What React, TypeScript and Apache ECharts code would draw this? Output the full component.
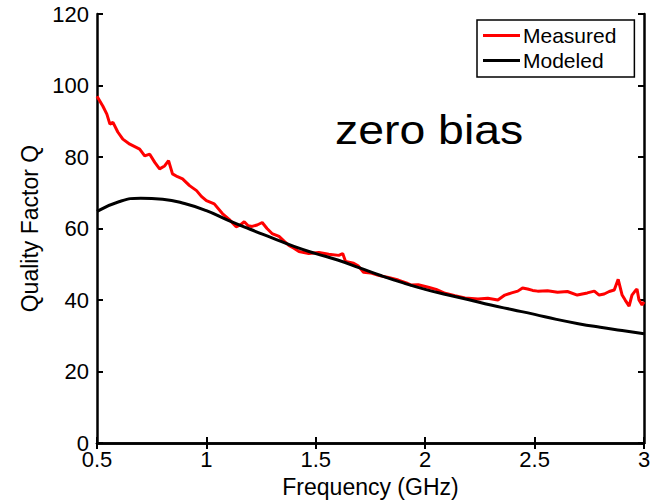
import React, { useEffect, useRef } from "react";
import * as echarts from "echarts";

const measuredF = [0.5, 0.527, 0.545, 0.559, 0.573, 0.595, 0.618, 0.65, 0.695, 0.718, 0.741, 0.764, 0.786, 0.809, 0.827, 0.845, 0.868, 0.891, 0.923, 0.955, 0.977, 1.0, 1.036, 1.073, 1.105, 1.136, 1.155, 1.173, 1.191, 1.209, 1.232, 1.255, 1.277, 1.3, 1.332, 1.355, 1.377, 1.4, 1.423, 1.468, 1.514, 1.559, 1.605, 1.623, 1.636, 1.673, 1.695, 1.718, 1.75, 1.786, 1.832, 1.877, 1.914, 1.936, 1.968, 2.014, 2.05, 2.091, 2.136, 2.182, 2.241, 2.286, 2.332, 2.364, 2.395, 2.423, 2.445, 2.468, 2.491, 2.514, 2.559, 2.605, 2.65, 2.695, 2.741, 2.773, 2.795, 2.818, 2.841, 2.864, 2.882, 2.9, 2.914, 2.932, 2.945, 2.959, 2.968, 2.977, 2.991, 3.0];
const measuredQ = [97.0, 94.2, 92.0, 89.2, 89.7, 87.0, 85.0, 83.6, 82.2, 80.3, 80.8, 78.5, 76.7, 77.5, 79.0, 75.3, 74.5, 73.9, 72.0, 70.6, 69.0, 67.8, 66.9, 64.2, 62.5, 60.5, 61.0, 61.9, 60.8, 60.6, 61.0, 61.7, 60.0, 58.6, 57.8, 56.5, 55.3, 54.5, 53.6, 53.0, 53.3, 52.8, 52.5, 53.0, 50.8, 50.3, 49.5, 47.8, 47.6, 46.9, 46.3, 45.6, 44.8, 44.2, 44.3, 43.6, 43.0, 41.9, 41.2, 40.6, 40.3, 40.5, 40.0, 41.4, 42.0, 42.5, 43.4, 43.1, 42.7, 42.5, 42.6, 42.2, 42.4, 41.4, 42.0, 42.5, 41.4, 41.7, 42.4, 42.8, 45.8, 41.4, 40.0, 38.3, 41.4, 42.5, 43.1, 40.0, 38.6, 39.5];

const modeledF = [0.5, 0.6, 0.7, 0.8, 0.9, 1.0, 1.1, 1.2, 1.3, 1.4, 1.5, 1.6, 1.7, 1.8, 1.9, 2.0, 2.1, 2.2, 2.3, 2.4, 2.5, 2.6, 2.7, 2.8, 2.9, 3.0];
const modeledQ = [64.8, 67.5, 68.5, 68.2, 67.0, 65.0, 62.3, 59.8, 57.4, 55.0, 53.0, 51.2, 49.0, 46.8, 44.8, 43.0, 41.5, 40.1, 38.6, 37.3, 36.0, 34.6, 33.4, 32.4, 31.5, 30.6];

const xTicks = [0.5, 1, 1.5, 2, 2.5, 3];
const yTicks = [0, 20, 40, 60, 80, 100, 120];
const seriesNames = ["Measured", "Modeled"];
const annotation = "zero bias";

const FONT = "Liberation Sans";

export default function App() {
  const ref = useRef<HTMLDivElement>(null);
  useEffect(() => {
    const chart = echarts.init(ref.current!, null, { renderer: "svg" });
    const axisLine = { show: true, lineStyle: { color: "#000", width: 2.5 } };
    const tickIn = { show: true, inside: true, length: 6, lineStyle: { color: "#000", width: 2 } };
    chart.setOption({
      animation: false,
      backgroundColor: "#fff",
      grid: { left: 97, right: 15, top: 14, bottom: 57 },
      legend: {
        data: seriesNames.map((n) => ({ name: n, icon: "rect" })),
        orient: "vertical",
        left: 477,
        top: 20,
        backgroundColor: "#fff",
        borderColor: "#000",
        borderWidth: 1.5,
        borderRadius: 0,
        padding: [5, 18, 6, 6],
        itemGap: 4,
        itemWidth: 37,
        itemHeight: 3,
        textStyle: { fontFamily: FONT, fontSize: 21, color: "#000", padding: [0, 0, 0, -2], lineHeight: 21 },
      },
      xAxis: [
        {
          type: "value",
          min: 0.5,
          max: 3,
          interval: 0.5,
          name: "Frequency (GHz)",
          nameLocation: "middle",
          nameGap: 31,
          nameTextStyle: { fontFamily: FONT, fontSize: 23, color: "#000" },
          axisLine,
          axisTick: tickIn,
          splitLine: { show: false },
          axisLabel: {
            fontFamily: FONT,
            fontSize: 22,
            color: "#000",
            margin: 5,
            formatter: (v: number) => (xTicks.includes(v) ? String(v) : ""),
          },
        },
        {
          type: "value",
          position: "top",
          min: 0.5,
          max: 3,
          interval: 0.5,
          axisLine,
          axisTick: tickIn,
          axisLabel: { show: false },
          splitLine: { show: false },
        },
      ],
      yAxis: [
        {
          type: "value",
          min: 0,
          max: 120,
          interval: 20,
          name: "Quality Factor Q",
          nameLocation: "middle",
          nameGap: 46,
          nameTextStyle: { fontFamily: FONT, fontSize: 23, color: "#000" },
          axisLine,
          axisTick: tickIn,
          splitLine: { show: false },
          axisLabel: {
            fontFamily: FONT,
            fontSize: 22,
            color: "#000",
            margin: 8,
            formatter: (v: number) => (yTicks.includes(v) ? String(v) : ""),
          },
        },
        {
          type: "value",
          position: "right",
          min: 0,
          max: 120,
          interval: 20,
          axisLine,
          axisTick: tickIn,
          axisLabel: { show: false },
          splitLine: { show: false },
        },
      ],
      series: [
        {
          name: seriesNames[0],
          type: "line",
          data: measuredF.map((f, i) => [f, measuredQ[i]]),
          symbol: "none",
          lineStyle: { color: "#ff0000", width: 3 },
          itemStyle: { color: "#ff0000" },
          z: 3,
        },
        {
          name: seriesNames[1],
          type: "line",
          data: modeledF.map((f, i) => [f, modeledQ[i]]),
          symbol: "none",
          smooth: true,
          lineStyle: { color: "#000", width: 3 },
          itemStyle: { color: "#000" },
          z: 4,
        },
      ],
      graphic: [
        {
          type: "text",
          x: 335,
          y: 110,
          scaleX: 1.16,
          style: { text: annotation, fontFamily: FONT, fontSize: 40, fill: "#000" },
        },
      ],
    });
    return () => chart.dispose();
  }, []);
  return <div ref={ref} style={{ width: 659, height: 503, position: "absolute", left: 0, top: 0 }} />;
}
